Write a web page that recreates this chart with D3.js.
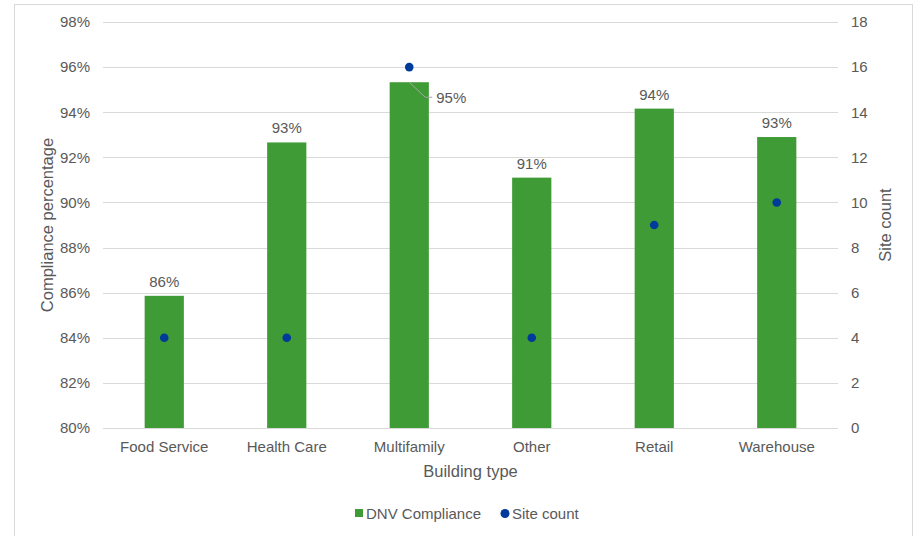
<!DOCTYPE html>
<html><head><meta charset="utf-8">
<script src="https://cdn.jsdelivr.net/npm/d3@7/dist/d3.min.js"></script>
<style>
body{margin:0;background:#fff;}
svg{display:block;font-family:"Liberation Sans",Arial,sans-serif;}
</style></head>
<body><svg id="c" width="917" height="536"></svg>
<script>
const categories = ["Food Service","Health Care","Multifamily","Other","Retail","Warehouse"];
const compliance = [0.8586, 0.9266, 0.9533, 0.9110, 0.9416, 0.9290];
const complianceLabels = ["86%","93%","95%","91%","94%","93%"];
const siteCount = [4, 4, 16, 4, 9, 10];
const leftTicks = [0.80,0.82,0.84,0.86,0.88,0.90,0.92,0.94,0.96,0.98];
const rightTicks = [0,2,4,6,8,10,12,14,16,18];

const svg = d3.select("#c");
const m={left:103,right:838,top:22,bottom:428};
const textCol="#595959", gridCol="#d9d9d9", green="#3f9b35", blue="#003a9a";
const FF="'Liberation Sans',Arial,sans-serif";

svg.append("rect").attr("x",14.5).attr("y",4.5).attr("width",898).attr("height",540)
  .attr("fill","#fff").attr("stroke","#d9d9d9").attr("stroke-width",1);

const x = d3.scaleBand().domain(categories).range([m.left,m.right]).paddingInner(0.68).paddingOuter(0.34);
const yL = d3.scaleLinear().domain([0.80,0.98]).range([m.bottom,m.top]);
const yR = d3.scaleLinear().domain([0,18]).range([m.bottom,m.top]);

// gridlines
svg.append("g").selectAll("line").data(leftTicks).join("line")
  .attr("x1",m.left).attr("x2",m.right)
  .attr("y1",d=>Math.round(yL(d))+0.5).attr("y2",d=>Math.round(yL(d))+0.5)
  .attr("stroke",gridCol).attr("stroke-width",1);

// left axis
const axL = svg.append("g").attr("transform",`translate(${m.left-13},0)`)
  .call(d3.axisLeft(yL).tickValues(leftTicks).tickFormat(d3.format(".0%")).tickSize(0).tickPadding(0));
axL.select(".domain").remove();
axL.selectAll("text").attr("fill",textCol).style("font-size","15px").style("font-family",FF);

// right axis
const axR = svg.append("g").attr("transform",`translate(${m.right+13},0)`)
  .call(d3.axisRight(yR).tickValues(rightTicks).tickSize(0).tickPadding(0));
axR.select(".domain").remove();
axR.selectAll("text").attr("fill",textCol).style("font-size","15px").style("font-family",FF);

// bottom axis labels
const axB = svg.append("g").attr("transform",`translate(0,${m.bottom})`)
  .call(d3.axisBottom(x).tickSize(0).tickPadding(13));
axB.select(".domain").remove();
axB.selectAll("text").attr("fill",textCol).style("font-size","15px").style("font-family",FF);

// bars
const bars = categories.map((c,i)=>({c,v:compliance[i],lab:complianceLabels[i],n:siteCount[i]}));
svg.append("g").selectAll("rect").data(bars).join("rect")
  .attr("x",d=>x(d.c)).attr("width",x.bandwidth())
  .attr("y",d=>yL(d.v)).attr("height",d=>yL(0.80)-yL(d.v))
  .attr("fill",green);

// bottom baseline
svg.append("line").attr("x1",m.left).attr("x2",m.right)
  .attr("y1",Math.round(yL(0.80))+0.5).attr("y2",Math.round(yL(0.80))+0.5)
  .attr("stroke",gridCol);

// data labels
bars.forEach(d=>{
  const cx = x(d.c)+x.bandwidth()/2;
  if(d.c==="Multifamily"){
    const yt = yL(d.v);
    svg.append("polyline")
      .attr("points",`${cx},${yt} ${cx+16},${yt+15} ${cx+23},${yt+15}`)
      .attr("fill","none").attr("stroke","#a6a6a6").attr("stroke-width",1);
    svg.append("text").attr("x",cx+27).attr("y",yt+20.5).attr("fill",textCol)
      .style("font-size","15px").text(d.lab);
  } else {
    svg.append("text").attr("x",cx).attr("y",yL(d.v)-9).attr("text-anchor","middle")
      .attr("fill",textCol).style("font-size","15px").text(d.lab);
  }
});

// dots
svg.append("g").selectAll("circle").data(bars).join("circle")
  .attr("cx",d=>x(d.c)+x.bandwidth()/2).attr("cy",d=>yR(d.n)).attr("r",4.3)
  .attr("fill",blue);

// axis titles
svg.append("text").attr("transform",`translate(53,${(m.top+m.bottom)/2}) rotate(-90)`)
  .attr("text-anchor","middle").attr("fill",textCol).style("font-size","16.5px").text("Compliance percentage");
svg.append("text").attr("transform",`translate(891,${(m.top+m.bottom)/2}) rotate(-90)`)
  .attr("text-anchor","middle").attr("fill",textCol).style("font-size","16.5px").text("Site count");
svg.append("text").attr("x",(m.left+m.right)/2).attr("y",477)
  .attr("text-anchor","middle").attr("fill",textCol).style("font-size","16.5px").text("Building type");

// legend
const lg = svg.append("g");
lg.append("rect").attr("x",355).attr("y",509).attr("width",8).attr("height",8).attr("fill",green);
lg.append("text").attr("x",366).attr("y",519).attr("fill",textCol).style("font-size","15px").text("DNV Compliance");
lg.append("circle").attr("cx",505).attr("cy",513.5).attr("r",4.5).attr("fill",blue);
lg.append("text").attr("x",512).attr("y",519).attr("fill",textCol).style("font-size","15px").text("Site count");
</script></body></html>
